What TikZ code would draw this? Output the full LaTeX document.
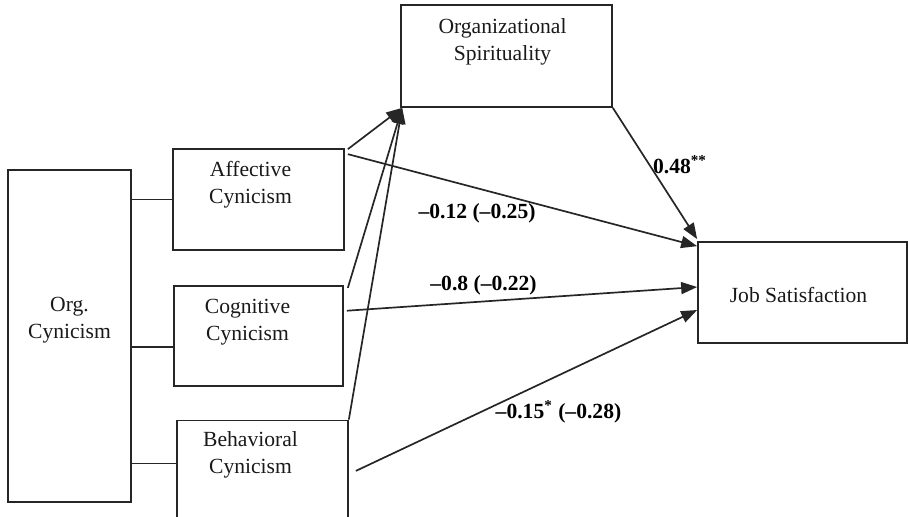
\documentclass[tikz,border=0pt]{standalone}
\usepackage{fontspec}
\setmainfont{Liberation Serif}
\usetikzlibrary{arrows.meta,positioning}

\begin{document}
\begin{tikzpicture}
  [%
 x=0.5pt, y=-0.5pt,
 box/.style={
  rectangle,
  line width=0.85pt, % border
  draw=black!85,
  inner sep=0pt},
 boxtext/.style={
  align=center,
  text=black!90,
  font=\fontsize{10.8pt}{13.5pt}\selectfont},
 coef/.style={
  font=\fontsize{10.8pt}{13.5pt}\selectfont\bfseries},
 link/.style={line width=0.85pt, draw=black!85},
 tip/.style={-{Triangle[length=8pt,width=6pt]}, line width=0.85pt, draw=black!85, fill=black}]
\useasboundingbox (0,0) rectangle (908,516);
\clip (0,0) rectangle (908,516);
\node (org) [box, minimum width=61.5pt, minimum height=166pt,
  label={[boxtext, yshift=8pt]center:Org.\\Cynicism}] at (69.5,336) {};
\node (affective) [box, minimum width=85.5pt, minimum height=50.5pt,
  label={[boxtext, xshift=-4pt, yshift=7.5pt]center:Affective\\Cynicism}] at (258.5,199.5) {};
\node (cognitive) [box, minimum width=84.5pt, minimum height=50pt, below=17pt of affective,
  label={[boxtext, xshift=-5.5pt, yshift=7pt]center:Cognitive\\Cynicism}] {};
\node (behavioral) [box, minimum width=85.5pt, minimum height=50.5pt, below=16.5pt of cognitive, xshift=2pt,
  label={[boxtext, xshift=-6pt, yshift=8pt]center:Behavioral\\Cynicism}] {};
\node (spirit) [box, minimum width=105.5pt, minimum height=51pt,
  label={[boxtext, xshift=-2pt, yshift=7pt]center:Organizational\\Spirituality}] at (506.5,56) {};
\node (jobsat) [box, minimum width=104.5pt, minimum height=50.5pt,
  label={[boxtext, xshift=-2pt, yshift=-1pt]center:Job Satisfaction}] at (802.5,292.5) {};
\coordinate (coglink) at ([yshift=-5.5pt]cognitive.west);
\coordinate (behlink) at ([yshift=3.75pt]behavioral.west);
\path (org.east |- affective.west)  edge[link] (affective.west) ;
\path (org.east |- coglink)  edge[link] (coglink) ;
\path (org.east |- behlink)  edge[link] (behlink) ;
\path ([shift={(1.5pt,-0.5pt)}]affective.north east)  edge[tip] ([xshift=1pt]spirit.south west) ;
\path ([shift={(2pt,-1.5pt)}]cognitive.north east)  edge[tip] ([xshift=1pt]spirit.south west) ;
\path (behavioral.north east)  edge[tip] ([xshift=1pt]spirit.south west) ;
\path ([shift={(1.5pt,-3pt)}]affective.north east)  edge[tip] ([yshift=-2.5pt]jobsat.north west) ;
\path (spirit.south east)  edge[tip] ([yshift=1pt]jobsat.north west) ;
\path ([shift={(1.5pt,12.5pt)}]cognitive.east)  edge[tip] ([yshift=2.75pt]jobsat.west) ;
\path ([xshift=3.5pt]behavioral.east)  edge[tip] ([yshift=-8.75pt]jobsat.west) ;
\node (c48) [coef, anchor=west] at (646,165) {0.48\textsuperscript{**}};
\node (c12) [coef] at (477,213) {--0.12 (--0.25)};
\node (c08) [coef] at (483.5,285) {--0.8 (--0.22)};
\node (c15) [coef] at (558.5,412) {--0.15\textsuperscript{*} (--0.28)};
\end{tikzpicture}
\end{document}
